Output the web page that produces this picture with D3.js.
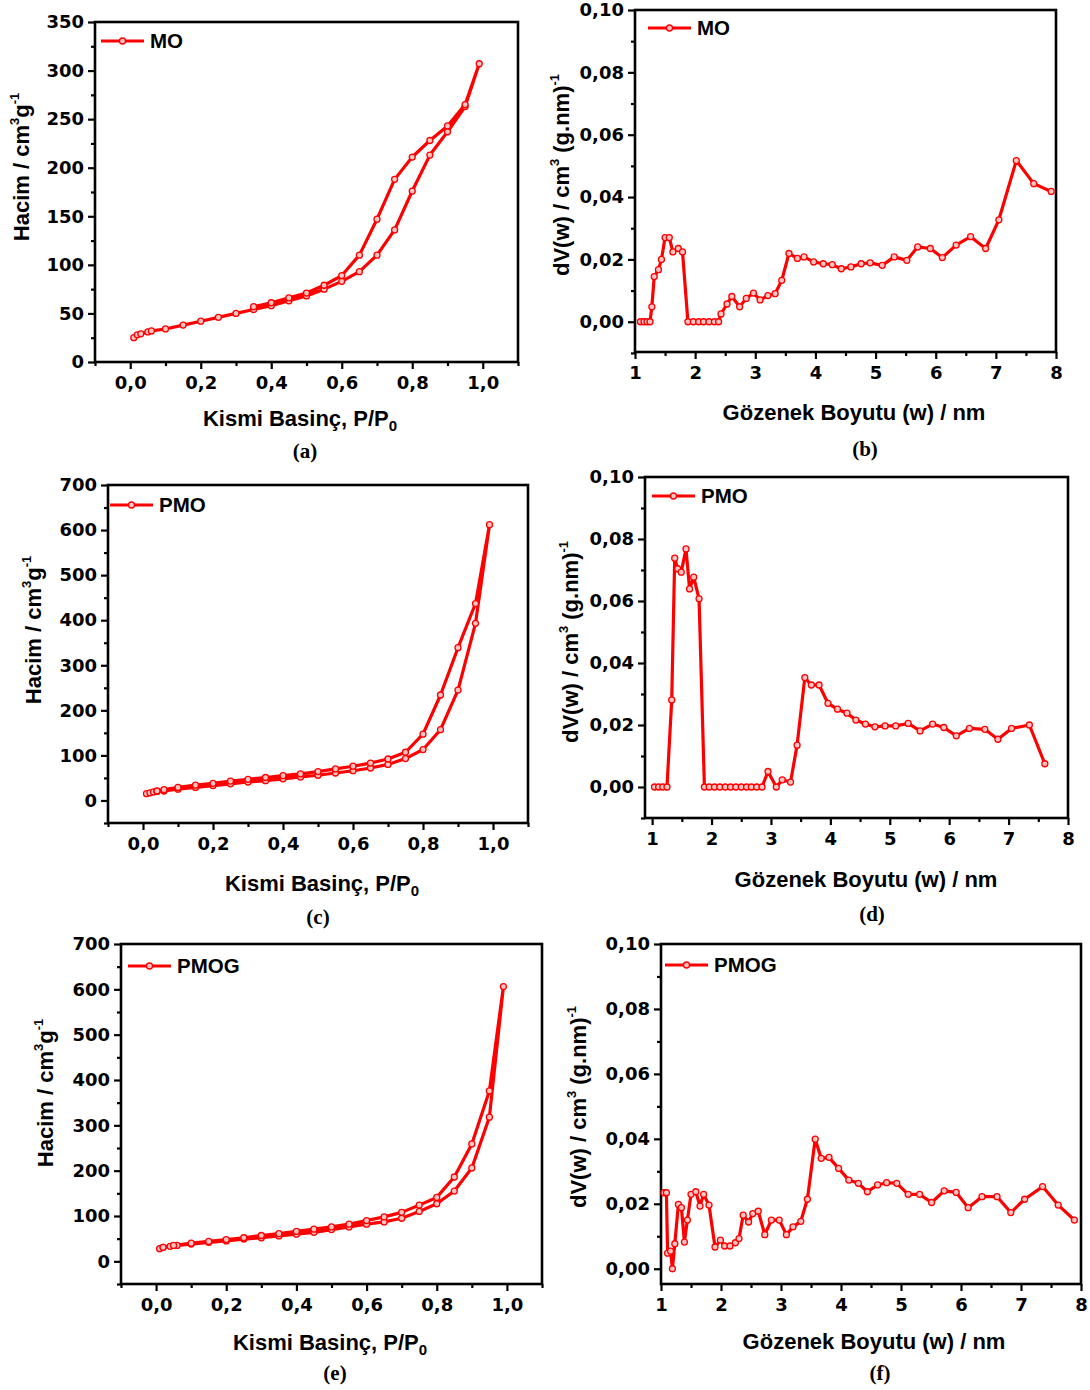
<!DOCTYPE html>
<html>
<head>
<meta charset="utf-8">
<script src="https://cdn.jsdelivr.net/npm/d3@7"></script>
<style>
  body { margin: 0; background: #fff; }
  svg { display: block; }
</style>
</head>
<body>
<div id="chart"></div>
<script>
// page size
var width = 1090
var height = 1390

// ---- data: isotherms (adsorption up to 0.99, then desorption back down) ----
var moP = [0.01, 0.02, 0.03, 0.05, 0.06, 0.1, 0.15, 0.2, 0.25, 0.3, 0.35, 0.4, 0.45, 0.5, 0.55, 0.6, 0.65, 0.7, 0.75, 0.8, 0.85, 0.9, 0.95, 0.99,
           0.95, 0.9, 0.85, 0.8, 0.75, 0.7, 0.65, 0.6, 0.55, 0.5, 0.45, 0.4, 0.35]
var moV = [25, 28, 29, 31, 32, 34, 38, 42, 46, 50, 54, 58, 63, 68, 75, 83, 93, 110, 136, 176, 213, 237, 263, 307,
           265, 243, 228, 211, 188, 147, 110, 89, 79, 71, 66, 61, 57]

var pmoP = [0.01, 0.02, 0.03, 0.04, 0.06, 0.1, 0.15, 0.2, 0.25, 0.3, 0.35, 0.4, 0.45, 0.5, 0.55, 0.6, 0.65, 0.7, 0.75, 0.8, 0.85, 0.9, 0.95, 0.99,
            0.95, 0.9, 0.85, 0.8, 0.75, 0.7, 0.65, 0.6, 0.55, 0.5, 0.45, 0.4, 0.35, 0.3, 0.25, 0.2, 0.15, 0.1, 0.06, 0.04]
var pmoV = [15, 17, 19, 20, 21, 25, 29, 33, 37, 41, 44, 48, 52, 56, 61, 66, 72, 80, 93, 113, 157, 245, 393, 612,
            437, 339, 234, 147, 107, 92, 83, 76, 70, 64, 59, 55, 51, 47, 43, 38, 34, 29, 24, 21]

var pmogP = [0.01, 0.02, 0.04, 0.06, 0.1, 0.15, 0.2, 0.25, 0.3, 0.35, 0.4, 0.45, 0.5, 0.55, 0.6, 0.65, 0.7, 0.75, 0.8, 0.85, 0.9, 0.95, 0.99,
             0.95, 0.9, 0.85, 0.8, 0.75, 0.7, 0.65, 0.6, 0.55, 0.5, 0.45, 0.4, 0.35, 0.3, 0.25, 0.2, 0.15, 0.1, 0.05, 0.02]
var pmogV = [28, 31, 33, 35, 38, 42, 45, 49, 52, 56, 60, 64, 70, 76, 82, 87, 95, 110, 127, 155, 206, 318, 606,
             376, 259, 186, 141, 124, 108, 98, 90, 82, 76, 71, 66, 61, 57, 52, 48, 44, 40, 35, 31]

// ---- data: pore size distributions ----
var moW = [1.09, 1.15, 1.2, 1.25, 1.28, 1.32, 1.39, 1.44, 1.5, 1.57, 1.63, 1.72, 1.79, 1.88, 1.97, 2.06, 2.14, 2.23, 2.32, 2.39,
           2.43, 2.53, 2.61, 2.74, 2.85, 2.97, 3.08, 3.21, 3.33, 3.44, 3.56, 3.7, 3.81, 3.97, 4.13, 4.28, 4.43, 4.59, 4.76,
           4.91, 5.11, 5.31, 5.52, 5.7, 5.91, 6.11, 6.34, 6.58, 6.83, 7.05, 7.34, 7.63, 7.92]
var moDV = [0, 0, 0, 0, 0.0048, 0.0145, 0.0167, 0.020, 0.027, 0.027, 0.0224, 0.0235, 0.0224, 0, 0, 0, 0, 0, 0, 0,
            0.0025, 0.0057, 0.0081, 0.0048, 0.0075, 0.0092, 0.0070, 0.0084, 0.0090, 0.0133, 0.0219, 0.0203, 0.0208, 0.0192, 0.0186, 0.0183, 0.0170, 0.0176, 0.0186,
            0.0189, 0.0181, 0.0208, 0.0197, 0.0240, 0.0235, 0.0206, 0.0246, 0.0273, 0.0235, 0.0327, 0.0517, 0.0443, 0.0418]

var pmoW = [1.04, 1.11, 1.18, 1.25, 1.33, 1.38, 1.43, 1.49, 1.57, 1.63, 1.7, 1.79, 1.88, 1.96, 2.05, 2.14, 2.23, 2.32, 2.41, 2.5,
            2.59, 2.67, 2.76, 2.85, 2.95, 3.09, 3.19, 3.33, 3.44, 3.57, 3.68, 3.81, 3.96, 4.12, 4.28, 4.43, 4.59, 4.75, 4.92,
            5.1, 5.31, 5.51, 5.72, 5.91, 6.12, 6.34, 6.6, 6.82, 7.05, 7.35, 7.61]
var pmoDV = [0, 0, 0, 0, 0.0281, 0.0738, 0.0704, 0.0693, 0.0768, 0.0639, 0.0677, 0.0607, 0, 0, 0, 0, 0, 0, 0, 0,
             0, 0, 0, 0, 0.0050, 0, 0.0023, 0.0016, 0.0135, 0.0353, 0.0329, 0.0329, 0.0270, 0.0251, 0.0238, 0.0216, 0.0203, 0.0194, 0.0197,
             0.0197, 0.0205, 0.0181, 0.0203, 0.0192, 0.0165, 0.0189, 0.0186, 0.0154, 0.0189, 0.0200, 0.0075]

var pmogW = [1.05, 1.09, 1.11, 1.16, 1.19, 1.23, 1.29, 1.34, 1.39, 1.44, 1.5, 1.58, 1.65, 1.71, 1.8, 1.9, 1.99, 2.06, 2.15, 2.24,
             2.3, 2.37, 2.46, 2.53, 2.62, 2.73, 2.84, 2.97, 3.09, 3.2, 3.33, 3.44, 3.57, 3.67, 3.8, 3.96, 4.13, 4.29, 4.44,
             4.61, 4.76, 4.93, 5.12, 5.31, 5.51, 5.72, 5.92, 6.12, 6.35, 6.6, 6.83, 7.06, 7.36, 7.62, 7.89]
var pmogDV = [0.0234, 0.0234, 0.0048, 0.0054, 0, 0.0077, 0.0198, 0.0188, 0.0082, 0.0150, 0.0229, 0.0237, 0.0193, 0.0229, 0.0196, 0.0067, 0.0088, 0.0070, 0.0070, 0.0080,
              0.0093, 0.0165, 0.0144, 0.0170, 0.0177, 0.0105, 0.0150, 0.0150, 0.0105, 0.0129, 0.0146, 0.0214, 0.0399, 0.0340, 0.0343, 0.0309, 0.0273, 0.0263, 0.0237,
              0.0258, 0.0265, 0.0263, 0.0229, 0.0229, 0.0204, 0.0240, 0.0235, 0.0188, 0.0222, 0.0222, 0.0173, 0.0214, 0.0253, 0.0196, 0.0150]

// ---- tick labels ----
var isoXTicks = [0, 0.2, 0.4, 0.6, 0.8, 1.0]
var isoXMinor = [-0.1, 0.1, 0.3, 0.5, 0.7, 0.9, 1.1]
var moYTicks = [0, 50, 100, 150, 200, 250, 300, 350]
var moYMinor = [25, 75, 125, 175, 225, 275, 325]
var pmoYTicks = [0, 100, 200, 300, 400, 500, 600, 700]
var pmoYMinor = [-50, 50, 150, 250, 350, 450, 550, 650]
var psdXTicks = [1, 2, 3, 4, 5, 6, 7, 8]
var psdXMinor = [1.5, 2.5, 3.5, 4.5, 5.5, 6.5, 7.5]
var psdYTicks = [0, 0.02, 0.04, 0.06, 0.08, 0.10]
var psdYMinor = [-0.01, 0.01, 0.03, 0.05, 0.07, 0.09]

// comma decimals
var trLocale = d3.formatLocale({decimal: ",", thousands: ".", grouping: [3], currency: ["", ""]})

var red = "#ff0000"
var titleFont = "'Liberation Sans', Arial, sans-serif"
var tickFont = "'DejaVu Sans', sans-serif"

var svg = d3.select("#chart")
  .append("svg")
  .attr("width", width)
  .attr("height", height)

// draw one panel
function drawPanel(p) {
  var g = svg.append("g")

  var x = d3.scaleLinear().domain(p.xDom).range([p.left, p.right])
  var y = d3.scaleLinear().domain(p.yDom).range([p.bottom, p.top])

  // major + minor ticks, left
  g.append("g")
    .attr("transform", "translate(" + p.left + ",0)")
    .call(d3.axisLeft(y).tickValues(p.yTicks).tickSize(7).tickPadding(4).tickFormat(p.yFmt))
  g.append("g")
    .attr("transform", "translate(" + p.left + ",0)")
    .call(d3.axisLeft(y).tickValues(p.yMinor).tickSize(4).tickFormat(""))

  // bottom
  g.append("g")
    .attr("transform", "translate(0," + p.bottom + ")")
    .call(d3.axisBottom(x).tickValues(p.xTicks).tickSize(7).tickPadding(7).tickFormat(p.xFmt))
  g.append("g")
    .attr("transform", "translate(0," + p.bottom + ")")
    .call(d3.axisBottom(x).tickValues(p.xMinor).tickSize(4).tickFormat(""))

  g.selectAll(".domain").remove()
  g.selectAll(".tick line").attr("stroke", "#000").attr("stroke-width", 2.2)
  g.selectAll(".tick text")
    .attr("fill", "#000")
    .style("font-family", tickFont)
    .style("font-weight", "bold")
    .style("font-size", "18px")

  // frame
  g.append("rect")
    .attr("x", p.left)
    .attr("y", p.top)
    .attr("width", p.right - p.left)
    .attr("height", p.bottom - p.top)
    .attr("fill", "none")
    .attr("stroke", "#000")
    .attr("stroke-width", 2.6)

  // series
  var pts = p.xs.map(function(d, i) { return [d, p.ys[i]] })
  var line = d3.line()
    .x(function(d) { return x(d[0]) })
    .y(function(d) { return y(d[1]) })

  g.append("path")
    .datum(pts)
    .attr("d", line)
    .attr("fill", "none")
    .attr("stroke", red)
    .attr("stroke-width", 3.2)
    .attr("stroke-linejoin", "round")

  g.selectAll("circle.pt")
    .data(pts)
    .enter()
    .append("circle")
    .attr("class", "pt")
    .attr("cx", function(d) { return x(d[0]) })
    .attr("cy", function(d) { return y(d[1]) })
    .attr("r", 3)
    .attr("fill", "#ffc4c4")
    .attr("stroke", red)
    .attr("stroke-width", 1.3)

  // legend
  g.append("line")
    .attr("x1", p.legX).attr("x2", p.legX + 43)
    .attr("y1", p.legY).attr("y2", p.legY)
    .attr("stroke", red)
    .attr("stroke-width", 3.2)
  g.append("circle")
    .attr("cx", p.legX + 21.5).attr("cy", p.legY)
    .attr("r", 3)
    .attr("fill", "#ffc4c4")
    .attr("stroke", red)
    .attr("stroke-width", 1.3)
  g.append("text")
    .attr("x", p.legX + 49)
    .attr("y", p.legY + 7)
    .text(p.name)
    .attr("font-family", titleFont)
    .attr("font-size", "20.5px")
    .attr("font-weight", "bold")

  // y title (rotated)
  var yt = g.append("text")
    .attr("transform", "translate(" + p.yTitleX + "," + p.yTitleY + ") rotate(-90)")
    .attr("text-anchor", "middle")
    .attr("dy", "0.36em")
    .attr("font-family", titleFont)
    .attr("font-size", "22px")
    .attr("font-weight", "bold")
  p.yTitle.forEach(function(part) {
    var t = yt.append("tspan").text(part.t)
    if (part.sup) {
      t.attr("font-size", "13px").attr("dy", "-0.75em")
    }
    if (part.back) {
      t.attr("dy", "0.45em")
    }
  })

  // x title
  var xt = g.append("text")
    .attr("x", p.xTitleX)
    .attr("y", p.xTitleY)
    .attr("text-anchor", "middle")
    .attr("dy", "0.36em")
    .attr("font-family", titleFont)
    .attr("font-size", "22px")
    .attr("font-weight", "bold")
  p.xTitle.forEach(function(part) {
    var t = xt.append("tspan").text(part.t)
    if (part.sub) {
      t.attr("font-size", "15px").attr("dy", "0.35em")
    }
  })

  // caption
  g.append("text")
    .attr("x", p.capX)
    .attr("y", p.capY)
    .attr("text-anchor", "middle")
    .attr("dy", "0.36em")
    .text(p.caption)
    .attr("font-family", "'Liberation Serif', 'Times New Roman', serif")
    .attr("font-size", "21px")
    .attr("font-weight", "bold")
}

var isoYTitle = [{t: "Hacim / cm"}, {t: "3", sup: true}, {t: "g", back: true}, {t: "-1", sup: true}]
var psdYTitle = [{t: "dV(w) / cm"}, {t: "3", sup: true}, {t: " (g.nm)", back: true}, {t: "-1", sup: true}]
var isoXTitle = [{t: "Kismi Basinç, P/P"}, {t: "0", sub: true}]
var psdXTitle = [{t: "Gözenek Boyutu (w) / nm"}]

var fmt1 = trLocale.format(".1f")
var fmt2 = trLocale.format(".2f")
var fmtI = d3.format("d")

// (a)
drawPanel({
  left: 95, right: 518, top: 22, bottom: 362,
  xDom: [-0.1, 1.1], yDom: [0, 350],
  xTicks: isoXTicks, xMinor: isoXMinor, yTicks: moYTicks, yMinor: moYMinor,
  xFmt: fmt1, yFmt: fmtI,
  xs: moP, ys: moV, name: "MO",
  legX: 101, legY: 41,
  yTitle: isoYTitle, yTitleX: 21, yTitleY: 167,
  xTitle: isoXTitle, xTitleX: 300, xTitleY: 418,
  caption: "(a)", capX: 305, capY: 450
})

// (b)
drawPanel({
  left: 635, right: 1056, top: 10, bottom: 352,
  xDom: [1, 8], yDom: [-0.0097, 0.10],
  xTicks: psdXTicks, xMinor: psdXMinor, yTicks: psdYTicks, yMinor: psdYMinor,
  xFmt: fmtI, yFmt: fmt2,
  xs: moW, ys: moDV, name: "MO",
  legX: 648, legY: 28,
  yTitle: psdYTitle, yTitleX: 561, yTitleY: 175,
  xTitle: psdXTitle, xTitleX: 854, xTitleY: 412,
  caption: "(b)", capX: 865, capY: 448
})

// (c)
drawPanel({
  left: 108, right: 528, top: 485, bottom: 823,
  xDom: [-0.1, 1.1], yDom: [-50, 700],
  xTicks: isoXTicks, xMinor: isoXMinor, yTicks: pmoYTicks, yMinor: pmoYMinor,
  xFmt: fmt1, yFmt: fmtI,
  xs: pmoP, ys: pmoV, name: "PMO",
  legX: 110, legY: 505,
  yTitle: isoYTitle, yTitleX: 33, yTitleY: 630,
  xTitle: isoXTitle, xTitleX: 322, xTitleY: 883,
  caption: "(c)", capX: 318, capY: 916
})

// (d)
drawPanel({
  left: 645, right: 1068, top: 477, bottom: 818,
  xDom: [0.88, 8], yDom: [-0.01, 0.10],
  xTicks: psdXTicks, xMinor: psdXMinor, yTicks: psdYTicks, yMinor: psdYMinor,
  xFmt: fmtI, yFmt: fmt2,
  xs: pmoW, ys: pmoDV, name: "PMO",
  legX: 652, legY: 496,
  yTitle: psdYTitle, yTitleX: 570, yTitleY: 642,
  xTitle: psdXTitle, xTitleX: 866, xTitleY: 879,
  caption: "(d)", capX: 872, capY: 913
})

// (e)
drawPanel({
  left: 121, right: 542, top: 944, bottom: 1284,
  xDom: [-0.1, 1.1], yDom: [-50, 700],
  xTicks: isoXTicks, xMinor: isoXMinor, yTicks: pmoYTicks, yMinor: pmoYMinor,
  xFmt: fmt1, yFmt: fmtI,
  xs: pmogP, ys: pmogV, name: "PMOG",
  legX: 128, legY: 966,
  yTitle: isoYTitle, yTitleX: 45, yTitleY: 1093,
  xTitle: isoXTitle, xTitleX: 330, xTitleY: 1342,
  caption: "(e)", capX: 335, capY: 1372
})

// (f)
drawPanel({
  left: 661, right: 1081, top: 944, bottom: 1284,
  xDom: [1, 8], yDom: [-0.0047, 0.10],
  xTicks: psdXTicks, xMinor: psdXMinor, yTicks: psdYTicks, yMinor: psdYMinor.slice(1),
  xFmt: fmtI, yFmt: fmt2,
  xs: pmogW, ys: pmogDV, name: "PMOG",
  legX: 665, legY: 965,
  yTitle: psdYTitle, yTitleX: 578, yTitleY: 1107,
  xTitle: psdXTitle, xTitleX: 874, xTitleY: 1341,
  caption: "(f)", capX: 880, capY: 1372
})
</script>
</body>
</html>
